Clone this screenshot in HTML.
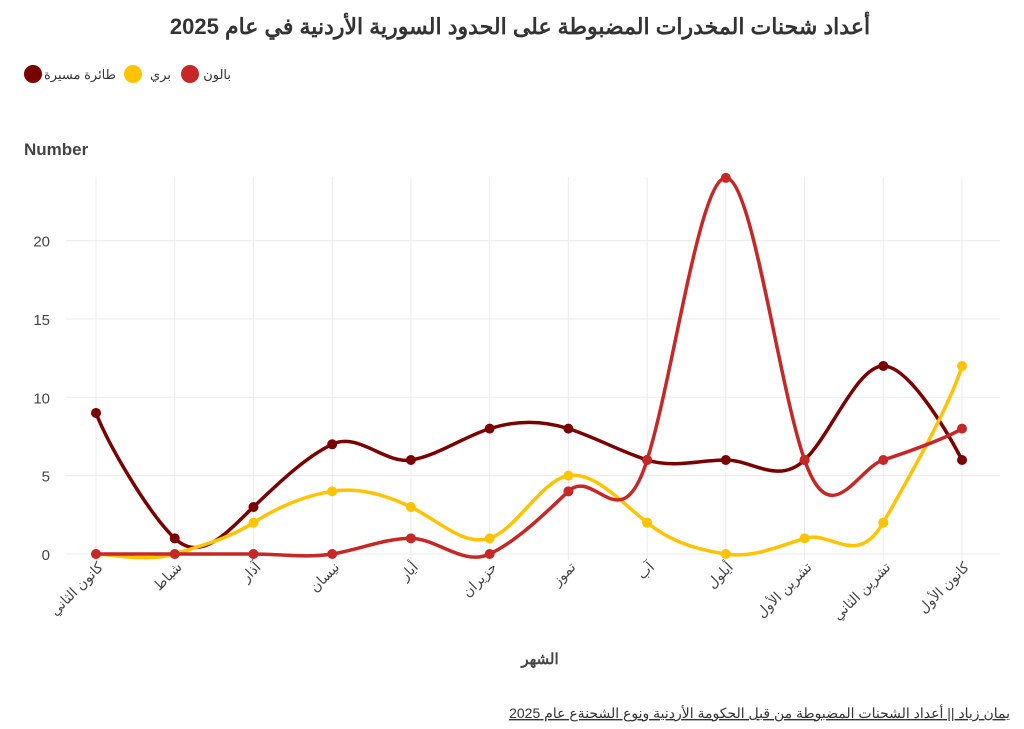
<!DOCTYPE html>
<html><head><meta charset="utf-8">
<style>
body{margin:0;background:#fff;width:1024px;height:724px;overflow:hidden;font-family:"Liberation Sans","Noto Sans CJK SC",sans-serif;}
</style></head><body>
<svg id="s" width="1024" height="724" xmlns="http://www.w3.org/2000/svg" font-family="Liberation Sans, Noto Sans CJK SC, sans-serif">
<text x="520" y="34" text-anchor="middle" font-size="22" font-weight="bold" fill="#333">أعداد شحنات المخدرات المضبوطة على الحدود السورية الأردنية في عام 2025</text>
<circle cx="33" cy="74" r="9" fill="#7a0000"/>
<text x="116" y="79" text-anchor="end" font-size="13" fill="#333" textLength="72">طائرة مسيرة</text>
<circle cx="133" cy="74" r="9" fill="#ffc300"/>
<text x="171" y="79" text-anchor="end" font-size="13" fill="#333">بري</text>
<circle cx="190" cy="74" r="9" fill="#c62828"/>
<text x="231" y="79" text-anchor="end" font-size="13" fill="#333">بالون</text>
<text x="24" y="155" font-size="17" font-weight="bold" fill="#444">Number</text>
<text x="540" y="664" text-anchor="middle" font-size="15" font-weight="bold" fill="#444">الشهر</text>
<text x="1010" y="718" text-anchor="end" font-size="14" fill="#333" text-decoration="underline">يمان زياد || أعداد الشحنات المضبوطة من قبل الحكومة الأردنية ونوع الشحنةع عام 2025</text>
<g id="g"></g>
</svg>
<script>
const g=document.getElementById('g');
const X=i=>96+i*78.73, Y=v=>554-15.67*v;
let h='';
for(let v=0;v<=20;v+=5){h+=`<line x1="66" x2="1000" y1="${Y(v)}" y2="${Y(v)}" stroke="#ebebeb"/>`;h+=`<text x="50" y="${Y(v)+6}" text-anchor="end" font-size="15" fill="#444">${v}</text>`;}
const m=["كانون الثاني","شباط","آذار","نيسان","أيار","حزيران","تموز","آب","أيلول","تشرين الأول","تشرين الثاني","كانون الأول"];
for(let i=0;i<12;i++){h+=`<line x1="${X(i)}" x2="${X(i)}" y1="177" y2="560" stroke="#ebebeb"/>`;
h+=`<text transform="translate(${X(i)+8},568) rotate(-45)" text-anchor="end" font-size="14" fill="#444">${m[i]}</text>`;}
const S=[["#c62828",[0,0,0,0,1,0,4,6,24,6,6,8]],["#ffc300",[0,0,2,4,3,1,5,2,0,1,2,12]],["#7a0000",[9,1,3,7,6,8,8,6,6,6,12,6]]];
const k=1.6;
for(const [c,d] of [S[2],S[1],S[0]]){
 const p=d.map((v,i)=>[X(i),Y(v)]);
 let s=`M${p[0][0]},${p[0][1]}`;
 for(let i=0;i<p.length-1;i++){const a=p[Math.max(0,i-1)],b=p[i],e=p[i+1],f=p[Math.min(p.length-1,i+2)];
  s+=` C${b[0]+(e[0]-a[0])/6},${b[1]+k*(e[1]-a[1])/6} ${e[0]-(f[0]-b[0])/6},${e[1]-k*(f[1]-b[1])/6} ${e[0]},${e[1]}`;}
 h+=`<path d="${s}" fill="none" stroke="${c}" stroke-width="3.5"/>`;
 p.forEach(q=>h+=`<circle cx="${q[0]}" cy="${q[1]}" r="5" fill="${c}"/>`);
}
g.innerHTML=h;
</script>
</body></html>
